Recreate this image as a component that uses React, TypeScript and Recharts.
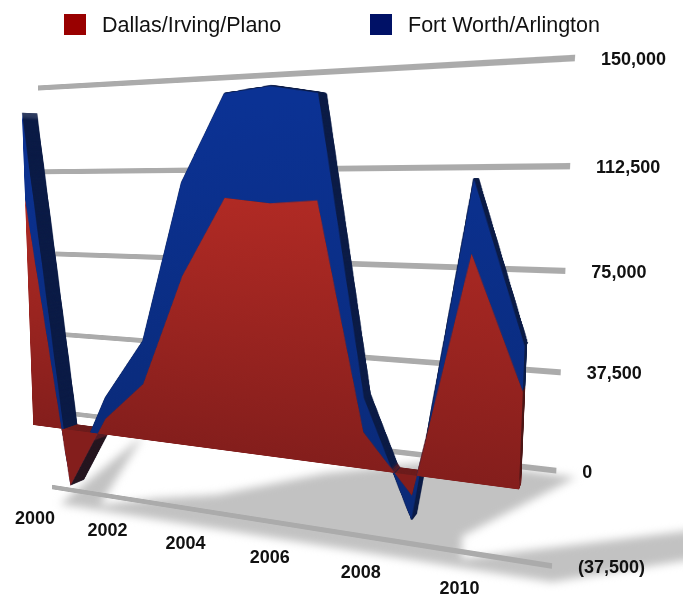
import * as React from "react";
import { AreaChart, Area, XAxis, YAxis, CartesianGrid } from "recharts";

const years = ["2000", "2001", "2002", "2003", "2004", "2005", "2006", "2007", "2008", "2009", "2010", "2011"];
const dallas = [102000, -26000, 7000, 24500, 71500, 103500, 101500, 102800, 14500, -8000, 84500, 36000];
const fortWorth = [37500, 3000, 9500, 18500, 38000, 40500, 44600, 40000, 13500, -9500, 26500, 16500];
const seriesNames = ["Dallas/Irving/Plano", "Fort Worth/Arlington"];
const legendColors = ["#990000", "#001166"];
const legendLeft = [64, 370];
const yTicks = [150000, 112500, 75000, 37500, 0, -37500];
const yearLabels = ["2000", "2002", "2004", "2006", "2008", "2010"];

const rows = years.map((year, i) => ({
  year,
  dallas: dallas[i],
  fortWorth: fortWorth[i],
  total: dallas[i] + fortWorth[i],
}));

const WIDTH = 683;
const HEIGHT = 599;
const PAD = 20;
const PLOT_W = 600;
const PLOT_H = 500;
const MARGIN = { top: PAD, left: PAD, right: WIDTH - PAD - PLOT_W, bottom: HEIGHT - PAD - PLOT_H };
const DOMAIN: [number, number] = [-37500, 150000];

type Pt = [number, number];
type Quad = [Pt, Pt, Pt, Pt]; // top left, top right, bottom right, bottom left

// where each flat plot rectangle lands on the page
const GRID_QUAD: Quad = [[38, 88], [575, 58], [552, 566], [52, 487]];
const FRONT_QUAD: Quad = [[21, 88], [536, 62], [515, 588], [36, 504]];
const BACK_QUAD: Quad = [[36, 89], [539, 64], [517, 580], [50, 498]];
const FLOOR_QUAD: Quad = [[150, 430], [985, 512], [552, 582], [60, 504]];
const YEAR_QUAD: Quad = [[21, 88], [536, 62], [512, 597], [35, 518]];
const DEPTH_STEPS = 30;

function homography(q: Quad) {
  const [[x0, y0], [x1, y1], [x2, y2], [x3, y3]] = q;
  const sx = x0 - x1 + x2 - x3;
  const sy = y0 - y1 + y2 - y3;
  const dx1 = x1 - x2;
  const dx2 = x3 - x2;
  const dy1 = y1 - y2;
  const dy2 = y3 - y2;
  const det = dx1 * dy2 - dx2 * dy1;
  const g = (sx * dy2 - dx2 * sy) / det;
  const h = (dx1 * sy - sx * dy1) / det;
  return {
    a: (x1 - x0 + g * x1) / PLOT_W,
    b: (x3 - x0 + h * x3) / PLOT_H,
    c: x0,
    d: (y1 - y0 + g * y1) / PLOT_W,
    e: (y3 - y0 + h * y3) / PLOT_H,
    f: y0,
    g: g / PLOT_W,
    h: h / PLOT_H,
  };
}

function toMatrix3d(q: Quad) {
  const m = homography(q);
  return `matrix3d(${m.a},${m.d},0,${m.g},${m.b},${m.e},0,${m.h},0,0,1,0,${m.c},${m.f},0,1)`;
}

function project(q: Quad, x: number, y: number): Pt {
  const m = homography(q);
  const w = m.g * x + m.h * y + 1;
  return [(m.a * x + m.b * y + m.c) / w, (m.d * x + m.e * y + m.f) / w];
}

function mixQuad(from: Quad, to: Quad, t: number): Quad {
  return from.map((p, i) => [
    p[0] + (to[i][0] - p[0]) * t,
    p[1] + (to[i][1] - p[1]) * t,
  ]) as Quad;
}

const Plane = ({ quad, children }: { quad: Quad; children: React.ReactNode }) => (
  <div
    style={{
      position: "absolute",
      left: 0,
      top: 0,
      width: 0,
      height: 0,
      transformOrigin: "0 0",
      transform: toMatrix3d(quad),
    }}
  >
    <div style={{ position: "absolute", left: -PAD, top: -PAD }}>{children}</div>
  </div>
);

const FlatChart = ({ children }: { children: React.ReactNode }) => (
  <AreaChart width={WIDTH} height={HEIGHT} data={rows} margin={MARGIN}>
    <XAxis dataKey="year" hide />
    <YAxis hide domain={DOMAIN} />
    {children}
  </AreaChart>
);

// gradient running over the whole plot height, offsets are fractions of the value range
const PlotGradient = ({ id, stops }: { id: string; stops: [number, string][] }) => (
  <defs>
    <linearGradient id={id} gradientUnits="userSpaceOnUse" x1="0" x2="0" y1={PAD} y2={PAD + PLOT_H}>
      {stops.map(([offset, color]) => (
        <stop key={offset} offset={offset} stopColor={color} />
      ))}
    </linearGradient>
  </defs>
);

const YearTick = (props: any) => {
  const { x, payload } = props;
  if (!yearLabels.includes(payload.value)) return <g />;
  const [px, py] = project(YEAR_QUAD, x - PAD, PLOT_H);
  return (
    <text x={px} y={py} textAnchor="middle" dominantBaseline="central" fontSize={18} fontWeight="bold" fill="#111">
      {payload.value}
    </text>
  );
};

const ValueTick = (props: any) => {
  const { y, payload } = props;
  const [px, py] = project(GRID_QUAD, PLOT_W, y - PAD);
  const v = payload.value as number;
  const label = v < 0 ? `(${Math.abs(v).toLocaleString("en-US")})` : v.toLocaleString("en-US");
  return (
    <text x={px + 26} y={py + 1} textAnchor="start" dominantBaseline="central" fontSize={18} fontWeight="bold" fill="#111">
      {label}
    </text>
  );
};

export default function App() {
  const depthLayers = Array.from({ length: DEPTH_STEPS }, (_, i) => 1 - i / DEPTH_STEPS);
  return (
    <div
      style={{
        position: "absolute",
        left: 0,
        top: 0,
        width: WIDTH,
        height: HEIGHT,
        overflow: "hidden",
        background: "#fff",
        fontFamily: "'Liberation Sans', Arial, sans-serif",
      }}
    >
      {/* shadow cast on the floor */}
      <div style={{ position: "absolute", left: 0, top: 0, filter: "blur(4px)" }}>
        <Plane quad={FLOOR_QUAD}>
          <FlatChart>
            <Area dataKey="total" baseValue={-37500} stroke="none" fill="#c2c2c2" fillOpacity={1} isAnimationActive={false} />
          </FlatChart>
        </Plane>
      </div>

      <Plane quad={GRID_QUAD}>
        <FlatChart>
          <CartesianGrid horizontal vertical={false} horizontalValues={yTicks} stroke="#ababab" strokeWidth={6} />
          <Area dataKey="total" stroke="none" fill="none" isAnimationActive={false} />
        </FlatChart>
      </Plane>

      {/* side walls: the same stack repeated from the back plane forward */}
      {depthLayers.map((t) => (
        <Plane key={t} quad={mixQuad(FRONT_QUAD, BACK_QUAD, t)}>
          <FlatChart>
            <PlotGradient
              id="redSide"
              stops={[
                [0.78, "#4a1313"],
                [0.785, "#6b1a1a"],
                [0.815, "#6b1a1a"],
                [0.82, "#2a1212"],
              ]}
            />
            <Area dataKey="dallas" stackId="metro" stroke="none" fill="none" isAnimationActive={false} />
            <Area dataKey="fortWorth" stackId="metro" stroke="#0a1a45" strokeWidth={1} fill="#0a1a45" fillOpacity={1} isAnimationActive={false} />
            <Area dataKey="dallas" stroke="none" fill="url(#redSide)" fillOpacity={1} isAnimationActive={false} />
          </FlatChart>
        </Plane>
      ))}

      <Plane quad={FRONT_QUAD}>
        <FlatChart>
          <PlotGradient id="redFront" stops={[[0.25, "#b02a24"], [0.8, "#841e1c"]]} />
          <PlotGradient id="blueFront" stops={[[0.05, "#0b3294"], [0.85, "#0a2a78"]]} />
          <Area dataKey="dallas" stackId="metro" stroke="none" fill="none" isAnimationActive={false} />
          <Area dataKey="fortWorth" name={seriesNames[1]} stackId="metro" stroke="none" fill="url(#blueFront)" fillOpacity={1} isAnimationActive={false} />
          <Area dataKey="dallas" name={seriesNames[0]} stroke="none" fill="url(#redFront)" fillOpacity={1} isAnimationActive={false} />
        </FlatChart>
      </Plane>

      {/* upright tick labels, placed through the same projection */}
      <div style={{ position: "absolute", left: 0, top: 0 }}>
        <AreaChart width={WIDTH} height={HEIGHT} data={rows} margin={{ ...MARGIN, right: MARGIN.right - 1, bottom: MARGIN.bottom - 1 }}>
          <XAxis dataKey="year" height={1} interval={0} axisLine={false} tickLine={false} tick={YearTick} />
          <YAxis orientation="right" width={1} domain={DOMAIN} ticks={yTicks} interval={0} axisLine={false} tickLine={false} tick={ValueTick} />
          <Area dataKey="total" stroke="none" fill="none" isAnimationActive={false} />
        </AreaChart>
      </div>

      {seriesNames.map((name, i) => (
        <div key={name} style={{ position: "absolute", left: legendLeft[i], top: 14, display: "flex", alignItems: "center", height: 21 }}>
          <span style={{ width: 22, height: 21, background: legendColors[i], marginRight: 16 }} />
          <span style={{ fontSize: 21.5, color: "#111", whiteSpace: "nowrap", position: "relative", top: 1 }}>{name}</span>
        </div>
      ))}
    </div>
  );
}
